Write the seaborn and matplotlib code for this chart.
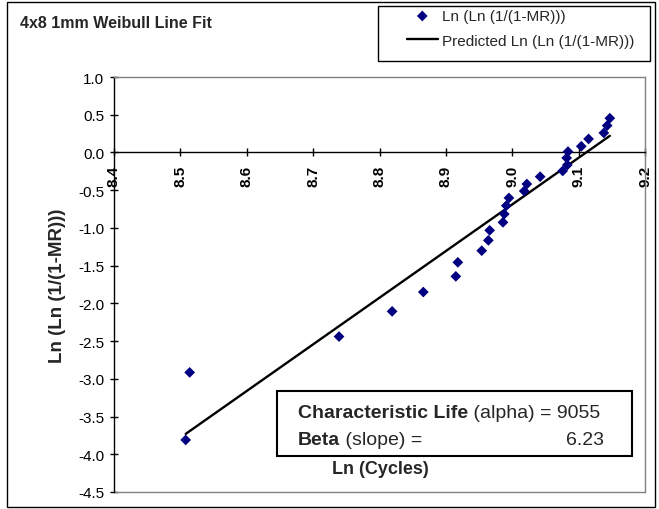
import seaborn as sns
import matplotlib.pyplot as plt
from matplotlib.patches import Rectangle

# Values
ln_cycles = [8.508, 8.514, 8.739, 8.819, 8.866, 8.915, 8.918, 8.954, 8.964, 8.966,
             8.986, 8.988, 8.991, 8.995, 9.018, 9.022, 9.042, 9.076, 9.082, 9.083,
             9.084, 9.104, 9.115, 9.138, 9.143, 9.147]
ln_ln_mr = [-3.81, -2.915, -2.44, -2.106, -1.85, -1.642, -1.456, -1.302, -1.165, -1.032,
            -0.926, -0.816, -0.705, -0.603, -0.511, -0.418, -0.321, -0.245, -0.073, -0.166,
            0.011, 0.082, 0.179, 0.259, 0.356, 0.454]

# predicted (fitted) line, end points
fit_x = [8.508, 9.147]
fit_y = [-3.73, 0.22]

x_ticks = [8.4, 8.5, 8.6, 8.7, 8.8, 8.9, 9.0, 9.1, 9.2]
y_ticks = [1.0, 0.5, 0.0, -0.5, -1.0, -1.5, -2.0, -2.5, -3.0, -3.5, -4.0, -4.5]

alpha_txt = '9055'
beta_txt = '6.23'

sns.set_style('white')
plt.rcParams['font.family'] = ['Liberation Sans', 'DejaVu Sans']

W, H = 659, 510
fig = plt.figure(figsize=(W / 100, H / 100), dpi=100)


def fx(px):
    return px / W


def fy(py):
    return 1 - py / H


ax = fig.add_axes([fx(114), fy(493), (645 - 114) / W, (493 - 78) / H])

sns.scatterplot(x=ln_cycles, y=ln_ln_mr, marker='D', s=30, color='#000080',
                edgecolor='none', label='Ln (Ln (1/(1-MR)))', ax=ax, zorder=3)
sns.lineplot(x=fit_x, y=fit_y, color='black', lw=1.7,
             label='Predicted Ln (Ln (1/(1-MR)))', ax=ax, zorder=2)

ax.set_xlim(8.4, 9.2)
ax.set_ylim(-4.5, 1.0)

# axes: y axis on the left, x axis crossing at 0, grey plot-area border
grey = '#808080'
ax.spines['bottom'].set_position(('data', 0))
ax.spines['bottom'].set_color('black')
ax.spines['left'].set_color('black')
for s in ['bottom', 'left']:
    ax.spines[s].set_linewidth(1)
for s in ['top', 'right']:
    ax.spines[s].set_color(grey)
    ax.spines[s].set_linewidth(1)
ax.axhline(-4.5, color=grey, lw=1, clip_on=False)

ax.set_xticks(x_ticks)
ax.set_xticklabels([f'{v:.1f}' for v in x_ticks], rotation=90,
                   fontweight='bold', fontsize=11)
ax.set_yticks(y_ticks)
ax.set_yticklabels([f'{v:.1f}' for v in y_ticks], fontsize=11)
ax.tick_params(axis='both', direction='inout', length=6, width=1,
               color='black', labelcolor='black', bottom=True, left=True)
ax.tick_params(axis='x', pad=6)
ax.tick_params(axis='y', pad=4)
ax.set_xlabel('')
ax.set_ylabel('')

# legend in its own box
handles, labels = ax.get_legend_handles_labels()
ax.get_legend().remove()
fig.add_artist(Rectangle((fx(378), fy(62)), fx(650) - fx(378), fy(7) - fy(62),
                         transform=fig.transFigure, facecolor='white',
                         edgecolor='black', lw=1, zorder=1))
fig.legend(handles, labels, loc='upper left', bbox_to_anchor=(fx(407), fy(10)),
           frameon=False, borderpad=0, borderaxespad=0, handlelength=2.0,
           handletextpad=0.3, labelspacing=0.7, fontsize=11)

# titles
fig.text(fx(20), fy(24), '4x8 1mm Weibull Line Fit', fontweight='bold',
         fontsize=11.5, va='center', ha='left')
fig.text(fx(57), fy(286), 'Ln (Ln (1/(1-MR)))', fontweight='bold', fontsize=13.5,
         rotation=90, va='center', ha='center')
fig.text(fx(380), fy(470), 'Ln (Cycles)', fontweight='bold', fontsize=13,
         va='center', ha='center')

# stats box
fs = 14
fig.add_artist(Rectangle((fx(277), fy(457)), fx(632) - fx(277), fy(392) - fy(457),
                         transform=fig.transFigure, facecolor='white',
                         edgecolor='black', lw=1.5, zorder=2))
t1 = fig.text(fx(298), fy(418), 'Characteristic Life', fontweight='bold', fontsize=fs,
              va='baseline', ha='left', zorder=3)
fig.add_artist(plt.Annotation(f' (alpha) = {alpha_txt}', xy=(1, 0), xycoords=t1,
                              fontsize=fs, va='bottom', ha='left', zorder=3))
t3 = fig.text(fx(298), fy(445), 'Beta', fontweight='bold', fontsize=fs,
              va='baseline', ha='left', zorder=3)
fig.add_artist(plt.Annotation(' (slope) =', xy=(1, 0), xycoords=t3,
                              fontsize=fs, va='bottom', ha='left', zorder=3))
fig.text(fx(604), fy(445), beta_txt, fontsize=fs,
         va='baseline', ha='right', zorder=3)

# chart-area border
fig.add_artist(Rectangle((fx(7), fy(508)), fx(655) - fx(7), fy(3) - fy(508),
                         transform=fig.transFigure, fill=False,
                         edgecolor='black', lw=1, zorder=0))

fig.savefig('out.png', dpi=100)
